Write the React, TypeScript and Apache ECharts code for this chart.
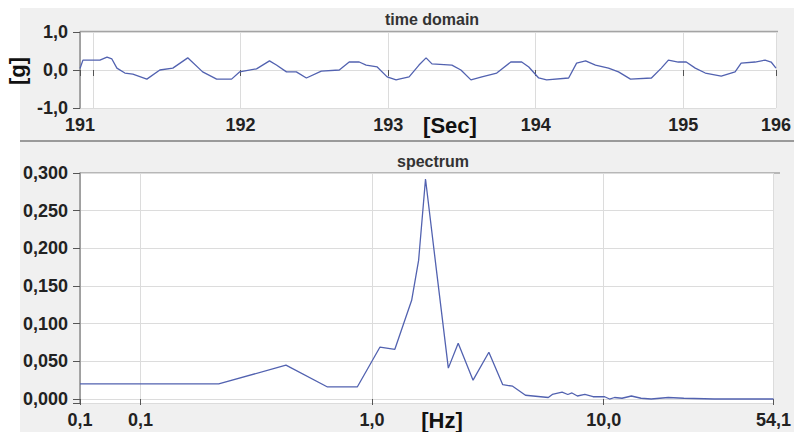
import React, { useEffect, useRef } from 'react';
import * as echarts from 'echarts';

// ---- time domain (seconds, g) ----
const timeSec = [
  190.912, 190.932, 191.047, 191.095, 191.128, 191.162, 191.216, 191.27, 191.365, 191.453,
  191.541, 191.642, 191.743, 191.838, 191.939, 191.993, 192.108, 192.196, 192.243, 192.311,
  192.378, 192.446, 192.547, 192.669, 192.736, 192.804, 192.851, 192.926, 192.993, 193.054,
  193.074, 193.142, 193.209, 193.257, 193.297, 193.432, 193.493, 193.561, 193.635, 193.736,
  193.831, 193.905, 193.953, 194.02, 194.074, 194.223, 194.277, 194.338, 194.405, 194.493,
  194.561, 194.642, 194.784, 194.851, 194.899, 194.966, 195.02, 195.081, 195.149, 195.257,
  195.351, 195.392, 195.486, 195.554, 195.595, 195.628,
];
const accelG = [
  0.04, 0.26, 0.26, 0.34, 0.29, 0.05, -0.08, -0.11, -0.24, 0.0,
  0.05, 0.32, -0.05, -0.24, -0.24, -0.05, 0.03, 0.24, 0.13, -0.05,
  -0.05, -0.21, -0.03, 0.0, 0.21, 0.21, 0.13, 0.08, -0.18, -0.26,
  -0.24, -0.18, 0.13, 0.32, 0.16, 0.13, 0.0, -0.26, -0.18, -0.08,
  0.21, 0.21, 0.08, -0.21, -0.26, -0.21, 0.18, 0.24, 0.13, 0.05,
  -0.05, -0.24, -0.21, 0.05, 0.26, 0.21, 0.21, 0.05, -0.08, -0.16,
  -0.05, 0.18, 0.21, 0.26, 0.21, 0.05,
];
const timeRange = [190.912, 195.628];
const accelRange = [-1, 1];
const accelStep = 1;

// ---- spectrum (Hz, amplitude) ----
const freqHz = [
  0.0548, 0.2176, 0.4247, 0.642, 0.863, 1.082, 1.254, 1.482, 1.588, 1.701,
  1.896, 2.134, 2.354, 2.729, 3.193, 3.666, 4.045, 4.596, 5.765, 6.0,
  6.614, 7.0, 7.297, 7.7, 8.293, 9.0, 10.1, 10.6, 11.14, 12.0,
  13.17, 14.5, 16.04, 19.0, 22.19, 30.0, 54.1,
];
const spectrumAmp = [
  0.02, 0.02, 0.045, 0.016, 0.016, 0.069, 0.066, 0.131, 0.184, 0.292,
  0.171, 0.041, 0.074, 0.025, 0.062, 0.019, 0.017, 0.005, 0.002, 0.006,
  0.009, 0.006, 0.008, 0.004, 0.006, 0.003, 0.003, 0.0, 0.002, 0.001,
  0.004, 0.001, 0.0, 0.002, 0.001, 0.0, 0.0,
];
const freqRange = [0.0548, 54.1];
const ampRange = [-0.0053, 0.3];

const comma = (v: number, d: number) => v.toFixed(d).replace('.', ',');

const FONT = "'Liberation Sans', Arial, sans-serif";
const labelStyle = { fontFamily: FONT, fontWeight: 'bold' as const, fontSize: 18, color: '#222' };
const LINE = '#5262b0';

export default function App() {
  const ref = useRef<HTMLDivElement>(null);
  useEffect(() => {
    if (!ref.current) return;
    const chart = echarts.init(ref.current, undefined, { renderer: 'svg' });
    const timeData = timeSec.map((t, i) => [t, accelG[i]]);
    const specData = freqHz.map((f, i) => [f, spectrumAmp[i]]);
    chart.setOption({
      animation: false,
      backgroundColor: '#f0f0f0',
      grid: [
        { left: 80, right: 16, top: 32, height: 76, show: true, backgroundColor: '#fff', borderWidth: 0 },
        { left: 80, right: 14, top: 173, height: 230, show: true, backgroundColor: '#fff', borderWidth: 0 },
      ],
      xAxis: [
        {
          type: 'value', gridIndex: 0, min: timeRange[0], max: timeRange[1],
          axisLine: { show: false },
          axisTick: { show: true, length: 6, lineStyle: { color: '#555' } },
          axisLabel: {
            ...labelStyle, margin: 8, showMinLabel: true, showMaxLabel: true,
            formatter: (v: number) => (Math.abs(v - 191) < 1e-6 ? '' : String(Math.round(v))),
          },
          splitLine: { show: true, lineStyle: { color: '#dcdcdc', width: 1 } },
        },
        {
          type: 'log', logBase: 10, gridIndex: 1, min: freqRange[0], max: freqRange[1],
          axisLine: { show: false },
          axisTick: { show: true, length: 6, lineStyle: { color: '#555' } },
          axisLabel: {
            ...labelStyle, margin: 8, showMinLabel: true, showMaxLabel: true, interval: 0,
            formatter: (v: number) => comma(v, 1),
          },
          minorTick: { show: false },
          splitLine: { show: true, lineStyle: { color: '#dcdcdc', width: 1 } },
        },
      ],
      yAxis: [
        {
          type: 'value', gridIndex: 0, min: accelRange[0], max: accelRange[1], interval: accelStep,
          axisLine: { show: true, lineStyle: { color: '#8c8c8c', width: 1.5 } },
          axisTick: { show: true, length: 7, lineStyle: { color: '#555' } },
          axisLabel: { ...labelStyle, margin: 12, formatter: (v: number) => comma(v, 1) },
          splitLine: { show: true, lineStyle: { color: '#dcdcdc', width: 1 } },
        },
        {
          type: 'value', gridIndex: 1, min: ampRange[0], max: ampRange[1],
          axisLine: { show: true, lineStyle: { color: '#8c8c8c', width: 1.5 } },
          axisTick: { show: true, length: 7, lineStyle: { color: '#555' } },
          axisLabel: {
            ...labelStyle, margin: 12, showMinLabel: true,
            formatter: (v: number) => (v < -1e-9 ? '' : comma(v, 3)),
          },
          splitLine: { show: true, lineStyle: { color: '#dcdcdc', width: 1 } },
        },
      ],
      series: [
        {
          type: 'line', xAxisIndex: 0, yAxisIndex: 0, data: timeData, showSymbol: false,
          lineStyle: { color: LINE, width: 1.3 }, silent: true,
        },
        {
          type: 'line', xAxisIndex: 1, yAxisIndex: 1, data: specData, showSymbol: false,
          lineStyle: { color: LINE, width: 1.3 }, silent: true,
        },
      ],
      graphic: [
        { type: 'rect', left: 0, top: 0, shape: { width: 794, height: 8 }, style: { fill: '#fff' }, silent: true },
        { type: 'rect', left: 0, top: 0, shape: { width: 20, height: 432 }, style: { fill: '#fff' }, silent: true },
        { type: 'line', shape: { x1: 80, y1: 31.5, x2: 778, y2: 31.5 }, style: { stroke: '#a4a4a4', lineWidth: 1.5 }, silent: true },
        { type: 'line', shape: { x1: 20, y1: 141, x2: 794, y2: 141 }, style: { stroke: '#9a9a9a', lineWidth: 2 }, silent: true },
        { type: 'line', shape: { x1: 80, y1: 173, x2: 780, y2: 173 }, style: { stroke: '#a4a4a4', lineWidth: 1.5 }, silent: true },
        {
          type: 'text', x: 432, y: 19,
          style: { text: 'time domain', font: `bold 16px ${FONT}`, fill: '#333', align: 'center', verticalAlign: 'middle' },
        },
        {
          type: 'text', x: 433, y: 161,
          style: { text: 'spectrum', font: `bold 16px ${FONT}`, fill: '#333', align: 'center', verticalAlign: 'middle' },
        },
        {
          type: 'text', x: 17, y: 71, rotation: Math.PI / 2,
          style: { text: '[g]', font: `bold 22px ${FONT}`, fill: '#111', align: 'center', verticalAlign: 'middle' },
        },
        {
          type: 'text', x: 450, y: 125,
          style: { text: '[Sec]', font: `bold 22px ${FONT}`, fill: '#111', align: 'center', verticalAlign: 'middle' },
        },
        {
          type: 'text', x: 442, y: 420,
          style: { text: '[Hz]', font: `bold 22px ${FONT}`, fill: '#111', align: 'center', verticalAlign: 'middle' },
        },
      ],
    });
    return () => chart.dispose();
  }, []);
  return <div ref={ref} style={{ position: 'fixed', left: 0, top: 0, width: 794, height: 432 }} />;
}
